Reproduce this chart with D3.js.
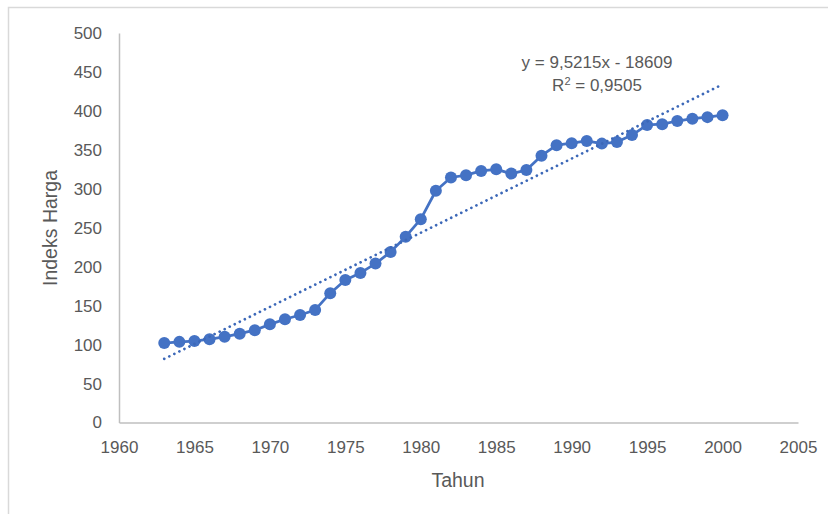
<!DOCTYPE html>
<html>
<head>
<meta charset="utf-8">
<script src="https://cdn.jsdelivr.net/npm/d3@7"></script>
<style>
  html, body { margin: 0; padding: 0; background: #ffffff; }
  svg { display: block; }
  text { font-family: "Liberation Sans", Arial, sans-serif; fill: #595959; }
</style>
</head>
<body>
<svg id="chart" width="828" height="514"></svg>
<script>
// ---- data ----
const years = [1963,1964,1965,1966,1967,1968,1969,1970,1971,1972,1973,1974,1975,1976,1977,1978,1979,1980,
               1981,1982,1983,1984,1985,1986,1987,1988,1989,1990,1991,1992,1993,1994,1995,1996,1997,1998,1999,2000];
const indeksHarga = [102,103.5,104.5,107,110,114,118.5,126,132.5,138,144.5,166,183,192,204,219,238.5,261,
                     297.5,314.5,317.5,323,325,319.5,324,342.5,356,358.5,361.5,358,360,369,382,383,387,390,392,394.5];
const xTicks = [1960,1965,1970,1975,1980,1985,1990,1995,2000,2005];
const yTicks = [0,50,100,150,200,250,300,350,400,450,500];
const trendSlope = 9.5215;
const trendIntercept = -18609;
const trendLabel1 = "y = 9,5215x - 18609";
const trendR2 = "0,9505";
const xTitle = "Tahun";
const yTitle = "Indeks Harga";

// ---- layout ----
const svg = d3.select("#chart");
const x = d3.scaleLinear().domain([1960, 2005]).range([119, 798]);
const y = d3.scaleLinear().domain([0, 500]).range([422.5, 33]);
const blue = "#4472C4";

// outer chart border
svg.append("rect")
  .attr("x", 8.5).attr("y", 7.5).attr("width", 840).attr("height", 540)
  .attr("fill", "none").attr("stroke", "#d9d9d9").attr("stroke-width", 1.5);

// y axis
const yAxis = d3.axisLeft(y).tickValues(yTicks).tickSize(0).tickPadding(17).tickFormat(d3.format("d"));
const gy = svg.append("g").attr("transform", `translate(${x(1960)},0)`).call(yAxis);
gy.select(".domain").attr("stroke", "#bfbfbf").attr("stroke-width", 1.5);
gy.selectAll("text").attr("font-size", 17).attr("fill", "#595959")
  .style("font-family", "'Liberation Sans', Arial, sans-serif");

// x axis
const xAxis = d3.axisBottom(x).tickValues(xTicks).tickSize(0).tickPadding(18).tickFormat(d3.format("d"));
const gx = svg.append("g").attr("transform", `translate(0,${y(0)})`).call(xAxis);
gx.select(".domain").attr("stroke", "#bfbfbf").attr("stroke-width", 1.5);
gx.selectAll("text").attr("font-size", 17).attr("fill", "#595959")
  .style("font-family", "'Liberation Sans', Arial, sans-serif");

// axis titles
svg.append("text").attr("x", 458).attr("y", 487).attr("text-anchor", "middle")
  .attr("font-size", 19.5).text(xTitle);
svg.append("text").attr("transform", "translate(57,228) rotate(-90)").attr("text-anchor", "middle")
  .attr("font-size", 19.5).text(yTitle);

// data line
const pts = years.map((yr, i) => [yr, indeksHarga[i]]);
svg.append("path")
  .datum(pts)
  .attr("fill", "none").attr("stroke", blue).attr("stroke-width", 2.75)
  .attr("stroke-linejoin", "round")
  .attr("d", d3.line().x(d => x(d[0])).y(d => y(d[1])));

svg.append("g").selectAll("circle").data(pts).join("circle")
  .attr("cx", d => x(d[0])).attr("cy", d => y(d[1])).attr("r", 6)
  .attr("fill", blue);

// linear trendline
const tStart = years[0], tEnd = years[years.length - 1];
const trend = [tStart, tEnd].map(t => [t, trendSlope * t + trendIntercept]);
svg.append("path")
  .datum(trend)
  .attr("fill", "none").attr("stroke", "#3c68b8").attr("stroke-width", 2.75)
  .attr("stroke-linecap", "round").attr("stroke-dasharray", "0.01 5.6")
  .attr("d", d3.line().x(d => x(d[0])).y(d => y(d[1])));

// trendline label
const lab = svg.append("text").attr("text-anchor", "middle").attr("font-size", 17);
lab.append("tspan").attr("x", 597).attr("y", 68).text(trendLabel1);
const l2 = lab.append("tspan").attr("x", 597).attr("y", 91);
l2.append("tspan").text("R");
l2.append("tspan").attr("dy", -6).attr("font-size", 11).text("2");
l2.append("tspan").attr("dy", 6).text(" = " + trendR2);
</script>
</body>
</html>
